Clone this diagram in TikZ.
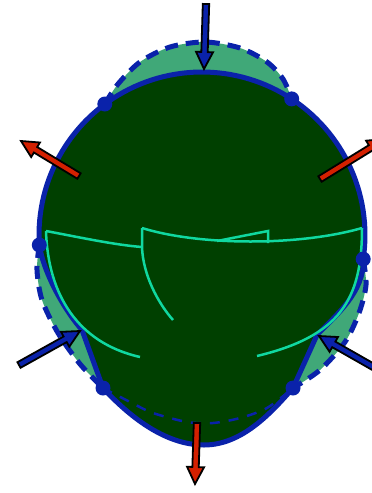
\documentclass[tikz,border=0pt]{standalone}
\usetikzlibrary{calc}

\definecolor{bodydark}{RGB}{0,64,0}
\definecolor{bodylight}{RGB}{64,168,120}
\definecolor{rimblue}{RGB}{10,34,170}
\definecolor{seamcyan}{RGB}{16,216,160}
\definecolor{pullred}{RGB}{212,32,0}

% fat outlined arrow: #1 fill colour, #2 tail coordinate, #3 tip coordinate
\newcommand\forcearrow[3]{%
  \coordinate (fa-h) at ($(#3)!17pt!(#2)$);
  \filldraw[forcearrowstyle, fill=#1]
    ($(#2)!3.2pt!90:(#3)$) -- ($(fa-h)!3.2pt!90:(#3)$) -- ($(fa-h)!8.5pt!90:(#3)$)
    -- (#3) -- ($(fa-h)!8.5pt!-90:(#3)$) -- ($(fa-h)!3.2pt!-90:(#3)$)
    -- ($(#2)!3.2pt!-90:(#3)$) -- cycle;}

\begin{document}
\begin{tikzpicture}[x=1pt,y=-1pt,
  rim/.style={draw=rimblue, line width=5pt, line join=round},
  rimdash/.style={draw=rimblue, line width=5pt, dash pattern=on 13pt off 8pt},
  rimthin/.style={draw=rimblue, line width=2.5pt, dash pattern=on 10pt off 9pt},
  seam/.style={draw=seamcyan, line width=2.5pt, line join=miter},
  forcearrowstyle/.style={draw=black, line width=1.8pt, line join=miter},
  hinge/.style={fill=rimblue}]
\useasboundingbox (0,0) rectangle (372,493);
\clip (0,0) rectangle (372,493);

% control points of the contour
\coordinate (ul) at (104.8,104);
\coordinate (ur) at (291.7,98.9);
\coordinate (l)  at (39.3,245);
\coordinate (r)  at (363.2,259.1);
\coordinate (ll) at (103,388);
\coordinate (lr) at (293,388);
\coordinate (lc) at (82,330);
\coordinate (rc) at (317,335);
\coordinate (b)  at (204,445);

% undeformed contour (light)
\fill[bodylight]
  plot[smooth] coordinates {(104.8,104) (118,84) (140,62) (170,47) (205,42) (240,48) (267,62) (283,79) (291.7,98.9)}
  -- plot[smooth] coordinates {(363.2,259.1) (366,285) (359,313) (345,342) (320,370) (293,388)}
  -- plot[smooth] coordinates {(293,388) (267,408) (240,418) (213,423) (187,422) (153,413) (132,403) (103,388)}
  -- plot[smooth] coordinates {(103,388) (80,364) (58,333) (42,300) (37,270) (39.3,245)}
  -- cycle;

% deformed contour (dark)
\path[fill=bodydark, rim]
  plot[domain=8.5:-183.5, samples=90] ({202+163*cos(\x)},{235+163*sin(\x)})
  .. controls (44,275) and (66,312) .. (lc) -- (ll)
  .. controls (128,415) and (164,445) .. (b)
  .. controls (242,445) and (271,413) .. (lr) -- (rc)
  .. controls (335,316) and (365,292) .. (r) -- cycle;

% dashed undeformed outline
\draw[rimdash] plot[smooth] coordinates {(104.8,104) (118,84) (140,62) (170,47) (205,42) (240,48) (267,62) (283,79) (291.7,98.9)};
\draw[rimdash] plot[smooth] coordinates {(39.3,245) (37,270) (42,300) (58,333) (80,364) (103,388)};
\draw[rimdash] plot[smooth] coordinates {(363.2,259.1) (366,285) (359,313) (345,342) (320,370) (293,388)};
\draw[rimthin] plot[smooth] coordinates {(103,388) (132,403) (153,413) (187,422) (213,423) (240,418) (267,408) (293,388)};

% seams
\coordinate (s1) at (46,231);
\coordinate (s2) at (142,247);
\coordinate (s3) at (142,228);
\coordinate (s4) at (362,228);
\draw[seam] (s1) .. controls (48,295) and (78,343) .. (140,357);
\draw[seam] (s1) .. controls (78,237) and (115,245) .. (s2);
\draw[seam] (s3) -- (s2) .. controls (143,275) and (158,303) .. (173,320);
\draw[seam] (s3) .. controls (200,246) and (300,246) .. (s4);
\draw[seam] (217,241) -- (268,231) -- (268,243);
\draw[seam] (s4) .. controls (362,300) and (340,336) .. (257,356);

% hinge dots
\foreach \p in {ul,ur,l,r,ll,lr} \fill[hinge] (\p) circle[radius=7.5pt];

% forces
\coordinate (a1t) at (206,4);   \coordinate (a1h) at (204,69);
\coordinate (a2t) at (79,176);  \coordinate (a2h) at (21,141);
\coordinate (a3t) at (320,179); \coordinate (a3h) at (385,139);
\coordinate (a4t) at (19,365);  \coordinate (a4h) at (80,331);
\coordinate (a5t) at (384,373); \coordinate (a5h) at (319,336);
\coordinate (a6t) at (197,423); \coordinate (a6h) at (195,484);
\forcearrow{rimblue}{a1t}{a1h}
\forcearrow{pullred}{a2t}{a2h}
\forcearrow{pullred}{a3t}{a3h}
\forcearrow{rimblue}{a4t}{a4h}
\forcearrow{rimblue}{a5t}{a5h}
\forcearrow{pullred}{a6t}{a6h}
\end{tikzpicture}
\end{document}
